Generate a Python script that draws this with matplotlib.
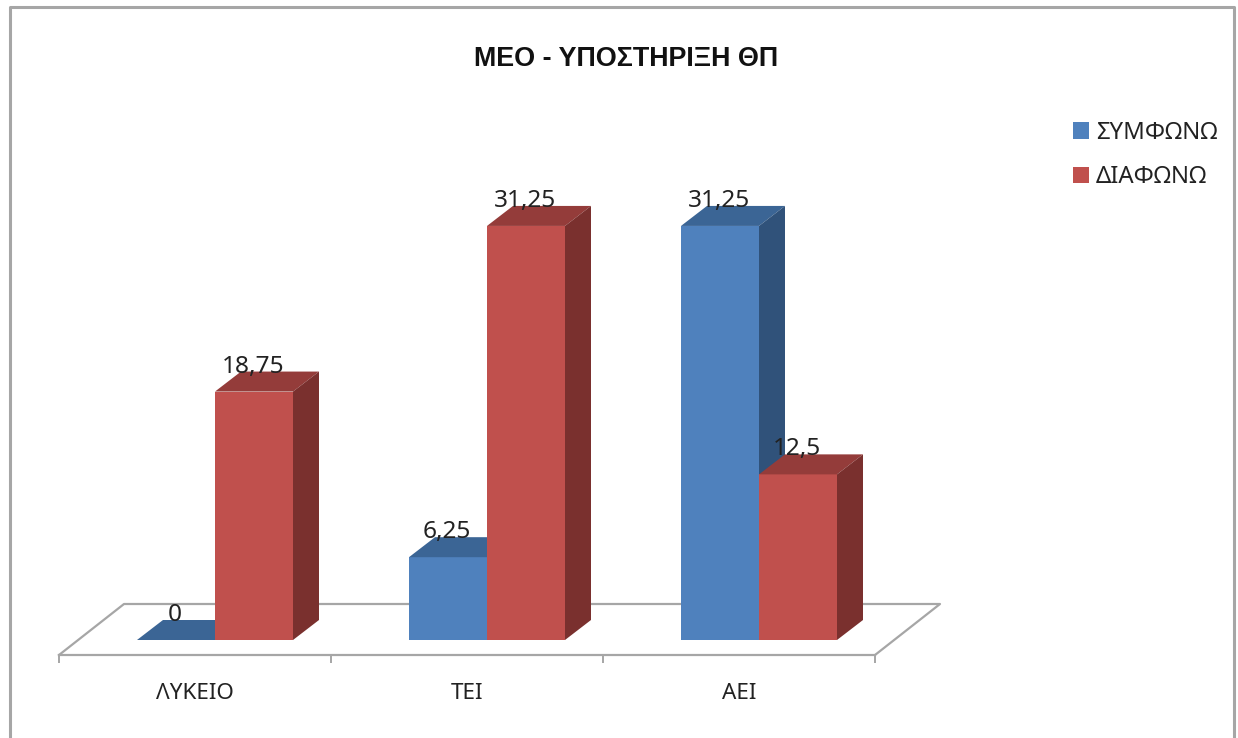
import matplotlib
matplotlib.use('Agg')
import matplotlib.pyplot as plt
from matplotlib.lines import Line2D
from matplotlib.patches import Patch, Polygon

plt.rcParams['font.family'] = ['Noto Sans', 'DejaVu Sans']

categories = ['ΛΥΚΕΙΟ', 'ΤΕΙ', 'ΑΕΙ']
series_names = ['ΣΥΜΦΩΝΩ', 'ΔΙΑΦΩΝΩ']
agree = [0, 6.25, 31.25]
disagree = [18.75, 31.25, 12.5]
title = 'ΜΕΟ - ΥΠΟΣΤΗΡΙΞΗ ΘΠ'

W, H = 1238, 738
FRONT, TOP, SIDE = 0, 1, 2
blue = ['#4F81BD', '#3B6595', '#30527A']
red = ['#C0504D', '#943C3A', '#7A302E']
grey = '#A6A6A6'
txt = '#222222'

# pixels per category / per value unit in the reference
px_x = 272.0
px_y = 13.25
axis_left, axis_bottom = 59, 655

fig = plt.figure(figsize=(W / 100, H / 100), dpi=100)
ax = fig.add_axes([axis_left / W, (H - axis_bottom) / H, 3 * px_x / W, (axis_bottom - 8) / H])
ax.set_xlim(-0.5, 2.5)
ax.set_ylim(0, (axis_bottom - 8) / px_y)
ax.patch.set_alpha(0)
for s in ['top', 'left', 'right']:
    ax.spines[s].set_visible(False)
ax.spines['bottom'].set_color(grey)
ax.spines['bottom'].set_linewidth(1.6)
ax.set_yticks([])
ax.set_xticks(range(3))
ax.set_xticklabels(categories, fontsize=16.2, color=txt)
ax.tick_params(axis='x', which='major', length=0, pad=20)
ax.set_xticks([-0.5, 0.5, 1.5, 2.5], minor=True)
ax.tick_params(axis='x', which='minor', length=6, width=1.4, color=grey)

# floor
fx, fy = 65 / px_x, 51 / px_y
ax.plot([-0.5, -0.5 + fx, 2.5 + fx, 2.5], [0, fy, fy, 0], color=grey, lw=1.6, zorder=1, clip_on=False)

# bars sit a little behind the front edge of the floor
ox, oy = 20 / px_x, 15 / px_y
dx, dy = 26 / px_x, 20 / px_y
bw = 78 / px_x


def bar3d(x, v, cols):
    left = x + ox
    right = left + bw
    y0, y1 = oy, oy + v
    ax.bar(left, v, bw, bottom=y0, align='edge', color=cols[FRONT], zorder=3)
    ax.add_patch(Polygon([(left, y1), (left + dx, y1 + dy), (right + dx, y1 + dy), (right, y1)],
                         fc=cols[TOP], ec='none', zorder=3))
    if v > 0:
        ax.add_patch(Polygon([(right, y0), (right + dx, y0 + dy), (right + dx, y1 + dy), (right, y1)],
                             fc=cols[SIDE], ec='none', zorder=3))
    ax.text(left + bw / 2 - 1 / px_x, y1 + 25 / px_y, f'{v:g}'.replace('.', ','), ha='center', va='center',
            fontsize=17.6, color=txt, zorder=5)


for i in range(3):
    bar3d(i - bw, agree[i], blue)
    bar3d(i, disagree[i], red)

fig.text(626 / W, 1 - 58.5 / H, title, ha='center', va='center', fontsize=19.4, fontweight='bold',
         family='Liberation Sans', color='#111111')

handles = [Patch(fc=blue[0]), Patch(fc=red[0])]
fig.legend(handles, series_names, loc='upper left', bbox_to_anchor=(1068 / W, 1 - 116 / H), frameon=False,
           fontsize=17.2, labelspacing=0.85, handlelength=0.68, handleheight=0.68, handletextpad=0.3,
           labelcolor=txt, borderpad=0.2, borderaxespad=0)

# chart frame, runs off the bottom of the picture
fig.add_artist(Line2D([10 / W, 10 / W, 1234 / W, 1234 / W], [0, 1 - 7 / H, 1 - 7 / H, 0], color=grey, lw=2.2))

fig.savefig('out.png', dpi=100)
